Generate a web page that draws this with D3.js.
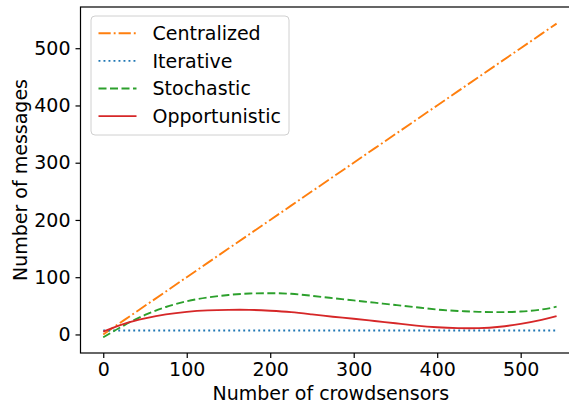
<!DOCTYPE html>
<html>
<head>
<meta charset="utf-8">
<script src="https://cdn.jsdelivr.net/npm/d3@7"></script>
<style>
  html, body { margin: 0; padding: 0; background: #fff; }
  svg { display: block; }
  text { font-family: "DejaVu Sans", sans-serif; fill: #000; }
</style>
</head>
<body>
<svg id="chart" width="569" height="405"></svg>
<script>
// ---- data ----
const xValues = [0, 25, 50, 75, 100, 125, 150, 175, 200, 225, 250, 275, 300, 325, 350, 375, 400, 425, 450, 475, 500, 525, 543];
const centralized = [0, 25, 50, 75, 100, 125, 150, 175, 200, 225, 250, 275, 300, 325, 350, 375, 400, 425, 450, 475, 500, 525, 543];
const iterative = [7, 7, 7, 7, 7, 7, 7, 7, 7, 7, 7, 7, 7, 7, 7, 7, 7, 7, 7, 7, 7, 7, 7];
const stochastic = [-5, 16, 34, 48, 58, 64.5, 69, 71.5, 72, 71, 67.5, 63.5, 59.5, 55.5, 51.5, 47.5, 43.5, 41, 39.5, 39, 40, 43.5, 48.5];
const opportunistic = [5, 18.5, 28, 35, 39.5, 42, 43, 43, 41.5, 39, 35, 31, 27.5, 23.5, 19.5, 15.5, 12.5, 11, 11, 13.5, 18.5, 25.5, 32];
const seriesNames = ["Centralized", "Iterative", "Stochastic", "Opportunistic"];
const xTicks = [0, 100, 200, 300, 400, 500];
const yTicks = [0, 100, 200, 300, 400, 500];

const seriesValues = [centralized, iterative, stochastic, opportunistic];
const colors = ["#ff7f0e", "#1f77b4", "#2ca02c", "#d62728"];
const dashes = ["12.2,3,1.9,3", "1.9,3.1", "8,3.5", null];

const svg = d3.select("#chart");
const mLeft = 80.5, mRight = 581, mTop = 7, mBottom = 353;

const x = d3.scaleLinear().domain([-27.25, 572.25]).range([mLeft, mRight]);
const y = d3.scaleLinear().domain([-32.4, 572]).range([mBottom, mTop]);

const fontSize = 19;

// lines
const smooth = d3.line().x(d => x(d[0])).y(d => y(d[1])).curve(d3.curveNatural);
const straight = d3.line().x(d => x(d[0])).y(d => y(d[1]));
svg.append("defs").append("clipPath").attr("id", "clip")
  .append("rect").attr("x", mLeft).attr("y", mTop).attr("width", mRight - mLeft).attr("height", mBottom - mTop);

const gLines = svg.append("g").attr("clip-path", "url(#clip)");
seriesValues.forEach((vals, i) => {
  gLines.append("path")
    .datum(xValues.map((xv, j) => [xv, vals[j]]))
    .attr("d", i < 2 ? straight : smooth)
    .attr("fill", "none")
    .attr("stroke", colors[i])
    .attr("stroke-width", 1.9)
    .attr("stroke-dasharray", dashes[i])
    .attr("stroke-linecap", "butt");
});

// axes
const xAxis = d3.axisBottom(x).tickValues(xTicks).tickSize(5).tickPadding(5).tickSizeOuter(0);
const yAxis = d3.axisLeft(y).tickValues(yTicks).tickSize(5).tickPadding(5).tickSizeOuter(0);

const gx = svg.append("g").attr("transform", `translate(0,${mBottom})`).call(xAxis);
const gy = svg.append("g").attr("transform", `translate(${mLeft},0)`).call(yAxis);
[gx, gy].forEach(g => {
  g.select(".domain").remove();
  g.selectAll(".tick line").attr("stroke", "#000").attr("stroke-width", 1.2);
  g.selectAll(".tick text").attr("font-size", fontSize).attr("font-family", "DejaVu Sans").attr("fill", "#000");
});

// frame
svg.append("rect").attr("x", mLeft).attr("y", mTop).attr("width", mRight - mLeft).attr("height", mBottom - mTop)
  .attr("fill", "none").attr("stroke", "#000").attr("stroke-width", 1.2);

// axis labels
svg.append("text").attr("x", (mLeft + mRight) / 2).attr("y", 400)
  .attr("text-anchor", "middle").attr("font-size", fontSize).text("Number of crowdsensors");
svg.append("text").attr("transform", `translate(27,${(mTop + mBottom) / 2}) rotate(-90)`)
  .attr("text-anchor", "middle").attr("font-size", fontSize).text("Number of messages");

// legend
const lg = svg.append("g");
lg.append("rect").attr("x", 91).attr("y", 16).attr("width", 198).attr("height", 119)
  .attr("rx", 4).attr("fill", "#fff").attr("fill-opacity", 0.8)
  .attr("stroke", "#d0d0d0").attr("stroke-width", 1);
seriesNames.forEach((name, i) => {
  const cy = 33.3 + i * 27.6;
  lg.append("line").attr("x1", 98.5).attr("x2", 136.5).attr("y1", cy).attr("y2", cy)
    .attr("stroke", colors[i]).attr("stroke-width", 1.9).attr("stroke-dasharray", dashes[i]);
  lg.append("text").attr("x", 152.5).attr("y", cy).attr("dy", "0.36em")
    .attr("font-size", fontSize).text(name);
});
</script>
</body>
</html>
